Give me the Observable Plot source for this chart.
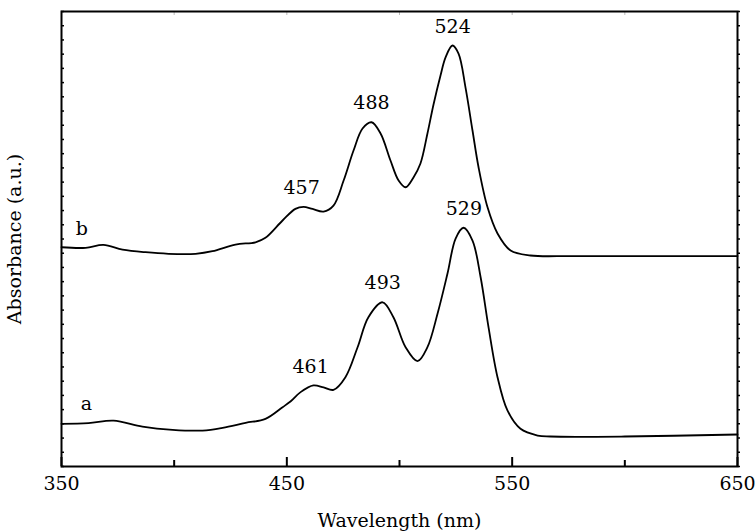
<!DOCTYPE html>
<html>
<head>
<meta charset="utf-8">
<script src="https://cdn.jsdelivr.net/npm/d3@7"></script>
<script src="https://cdn.jsdelivr.net/npm/@observablehq/plot@0.6"></script>
<style>
  html, body { margin: 0; padding: 0; background: white; }
</style>
</head>
<body>
<div id="chart"></div>
<script>
// Curve a (lower spectrum)
const wavelengthA = [350, 362, 373.1, 385.9, 399.3, 412.6, 421.5, 431.7, 440.5, 448.1, 451.6, 456.1, 461.8, 466.3, 470.7, 476, 481.4, 486.2, 492.5, 497.3, 502.7, 508, 512.4, 516.9, 521.3, 524.9, 528.4, 532.4, 536, 539.5, 543.5, 547.9, 553.7, 561.3, 567, 600, 650];
const absorbA    = [3.00, 3.05, 3.23, 2.81, 2.58, 2.53, 2.72, 3.07, 3.35, 4.17, 4.57, 5.23, 5.70, 5.56, 5.39, 6.28, 8.39, 10.50, 11.55, 10.50, 8.39, 7.41, 8.39, 10.76, 13.57, 16.03, 16.79, 15.89, 13.31, 9.80, 6.28, 3.94, 2.65, 2.18, 2.11, 2.11, 2.25];

// Curve b (upper spectrum)
const wavelengthB = [350, 360.7, 368.6, 377.1, 387.3, 397.5, 409.5, 417, 427.2, 436.1, 440.5, 448.1, 453.8, 457.4, 461.4, 466.3, 470.7, 475.2, 479.6, 483.6, 487.6, 491.6, 496, 499.6, 502.7, 506.2, 509.3, 512.4, 515.1, 518.2, 520.4, 523.5, 526.2, 529.3, 532.4, 535.1, 539.1, 543.5, 549.3, 558.1, 575.9, 600, 650];
const absorbB    = [15.42, 15.38, 15.59, 15.26, 15.07, 14.96, 14.96, 15.14, 15.61, 15.77, 16.08, 17.30, 18.12, 18.26, 18.11, 17.93, 18.35, 20.11, 22.22, 23.77, 24.21, 23.42, 21.52, 20.11, 19.64, 20.33, 21.31, 23.42, 25.46, 27.50, 28.76, 29.61, 29.04, 26.65, 23.63, 21.03, 18.21, 16.39, 15.19, 14.84, 14.80, 14.80, 14.80];

// Peak annotations
const peakNm   = [457, 488, 524, 461, 493, 529];
const peakAbs  = [18.26, 24.21, 29.61, 5.70, 11.55, 16.79];
const peakText = ["457", "488", "524", "461", "493", "529"];

// Curve names
const curveNames = ["a", "b"];
const curveNameNm = [361, 359];
const curveNameAbs = [3.05, 15.38];

// Axis ticks
const xMajorTicks = [350, 450, 550, 650];
const xMinorTicks = [400, 500, 600];
const xTopTicks = [400, 450, 500, 550, 600];
const yTicks = d3.range(0, 33);

const curveA = wavelengthA.map((w, i) => ({w, a: absorbA[i]}));
const curveB = wavelengthB.map((w, i) => ({w, a: absorbB[i]}));
const peaks = peakNm.map((w, i) => ({w, a: peakAbs[i], t: peakText[i]}));
const names = curveNames.map((t, i) => ({t, w: curveNameNm[i], a: curveNameAbs[i]}));

const serif = "DejaVu Serif";

const chart = Plot.plot({
  width: 755,
  height: 531,
  marginLeft: 61,
  marginRight: 18,
  marginTop: 11,
  marginBottom: 65,
  x: {domain: [350, 650]},
  y: {domain: [0, 32]},
  style: {fontSize: "19px", fontFamily: serif, color: "black", background: "white", overflow: "visible"},
  marks: [
    Plot.axisX(xMajorTicks, {anchor: "bottom", tickSize: 0, tickPadding: 10, tickFormat: d => String(d), fontSize: 19, fontFamily: serif, label: "Wavelength (nm)", labelAnchor: "center", labelOffset: 60, labelArrow: "none"}),
    Plot.axisX(xMajorTicks, {anchor: "bottom", tickSize: -9, tickFormat: () => "", label: null, strokeWidth: 2}),
    Plot.axisX(xMinorTicks, {anchor: "bottom", tickSize: -6, tickFormat: () => "", label: null, strokeWidth: 2}),
    Plot.axisX(xTopTicks, {anchor: "top", tickSize: -3, tickFormat: () => "", label: null, stroke: "#bbb", strokeWidth: 1}),
    Plot.axisY(yTicks, {anchor: "left", tickSize: -3, tickFormat: () => "", strokeWidth: 1.5, fontFamily: serif, label: "Absorbance (a.u.)", labelAnchor: "center", labelOffset: 54, labelArrow: "none", fontSize: 19}),
    Plot.axisY(yTicks, {anchor: "right", tickSize: 2, tickFormat: () => "", strokeWidth: 1.5, label: null}),
    Plot.frame({stroke: "black", strokeWidth: 2}),
    Plot.line(curveB, {x: "w", y: "a", stroke: "black", strokeWidth: 1.8, curve: "catmull-rom"}),
    Plot.line(curveA, {x: "w", y: "a", stroke: "black", strokeWidth: 1.8, curve: "catmull-rom"}),
    Plot.text(peaks, {x: "w", y: "a", text: "t", dy: -19, dx: -1, fontSize: 19, fontFamily: serif, fill: "black"}),
    Plot.text(names, {x: "w", y: "a", text: "t", dy: -19, fontSize: 19, fontFamily: serif, fill: "black"})
  ]
});

d3.select(chart).selectAll("text").attr("font-family", serif);

document.getElementById("chart").appendChild(chart);
</script>
</body>
</html>
